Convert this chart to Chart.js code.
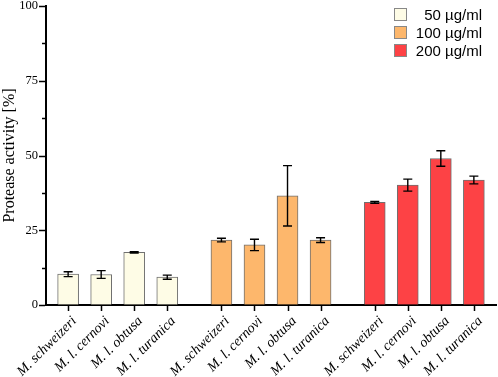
<!DOCTYPE html>
<html>
<head>
<meta charset="utf-8">
<script src="https://cdn.jsdelivr.net/npm/chart.js@4"></script>
<style>
  html, body { margin: 0; padding: 0; background: #fff; }
  #wrap { width: 498px; height: 377px; position: relative; }
</style>
</head>
<body>
<div id="wrap"><canvas id="chart_protease"></canvas></div>
<script>
// strains, same order in every dose group
const species = ['M. schweizeri', 'M. l. cernovi', 'M. l. obtusa', 'M. l. turanica'];
const doses = ['50 µg/ml', '100 µg/ml', '200 µg/ml'];

const mean50 = [10.3, 10.2, 17.6, 9.3];
const sd50 = [0.8, 1.3, 0.2, 0.7];
const mean100 = [21.7, 20.1, 36.5, 21.7];
const sd100 = [0.6, 1.9, 10.1, 0.8];
const mean200 = [34.3, 40.1, 49.0, 41.8];
const sd200 = [0.3, 2.0, 2.6, 1.3];

const yTicks = [0, 25, 50, 75, 100];

const means = [mean50, mean100, mean200];
const sds = [sd50, sd100, sd200];
const fills = ['#fefce6', '#fdb76c', '#fd4245'];

// layout: gap between dose groups, in bar slots
const groupGap = 0.64;
const sidePad = 0.67;
const slot = (g, i) => g * (species.length + groupGap) + i;

const positions = [];
const posLabels = {};
doses.forEach((d, g) => species.forEach((s, i) => {
  positions.push(slot(g, i));
  posLabels[slot(g, i).toFixed(3)] = s;
}));

const datasets = doses.map((d, g) => ({
  label: d,
  data: means[g].map((v, i) => ({ x: slot(g, i), y: v })),
  backgroundColor: fills[g],
  borderColor: '#707070',
  borderWidth: 1,
  barThickness: 21,
  grouped: false
}));

const serif = 'Liberation Serif';

var chart_protease = new Chart(document.getElementById('chart_protease'), {
  type: 'bar',
  data: { datasets: datasets },
  options: {
    animation: false,
    responsive: true,
    maintainAspectRatio: false,
    layout: { padding: { top: 6, right: 2, left: 0, bottom: 0 } },
    plugins: {
      legend: { display: false },
      tooltip: { enabled: false }
    },
    scales: {
      x: {
        type: 'linear',
        offset: false,
        min: -sidePad,
        max: slot(doses.length - 1, species.length - 1) + sidePad,
        afterBuildTicks: (scale) => {
          scale.ticks = positions.map(v => ({ value: v }));
        },
        afterFit: (scale) => { scale.height = 72; },
        grid: { display: false },
        border: { display: true, color: '#000', width: 2 },
        ticks: { display: false }
      },
      y: {
        min: 0,
        max: 100,
        afterFit: (scale) => {
          scale.width = 46;
          scale.paddingTop = 0;
          scale.paddingBottom = 0;
        },
        grid: {
          display: true, drawOnChartArea: false, drawTicks: true,
          tickLength: 6, tickColor: 'rgba(0,0,0,0)'
        },
        border: { display: true, color: '#000', width: 2 },
        title: {
          display: true,
          text: 'Protease activity [%]',
          color: '#000',
          padding: 0,
          font: { family: serif, size: 16 }
        },
        ticks: {
          stepSize: 12.5,
          padding: 2,
          color: '#000',
          font: { family: serif, size: 12.5 },
          callback: (v) => yTicks.includes(v) ? v : ''
        }
      }
    }
  },
  plugins: [{
    id: 'whiteBg',
    beforeDraw: (chart) => {
      const ctx = chart.ctx;
      ctx.save();
      ctx.fillStyle = 'white';
      ctx.fillRect(0, 0, chart.width, chart.height);
      ctx.restore();
    }
  }, {
    id: 'ticksErrorsLegend',
    afterDraw: (chart) => {
      const ctx = chart.ctx;
      const xs = chart.scales.x, ys = chart.scales.y;
      const area = chart.chartArea;
      ctx.save();
      ctx.strokeStyle = '#000';
      ctx.lineWidth = 1.5;
      // y tick marks, short ones between labels
      ys.ticks.forEach(t => {
        const py = Math.round(ys.getPixelForValue(t.value)) + 0.5;
        const len = yTicks.includes(t.value) ? 6 : 3;
        ctx.beginPath();
        ctx.moveTo(area.left - 1, py);
        ctx.lineTo(area.left - 1 - len, py);
        ctx.stroke();
      });
      // x tick marks and slanted italic labels
      ctx.fillStyle = '#000';
      ctx.font = 'italic 14px "Liberation Serif"';
      ctx.textAlign = 'right';
      ctx.textBaseline = 'top';
      positions.forEach(v => {
        const px = Math.round(xs.getPixelForValue(v)) + 0.5;
        ctx.beginPath();
        ctx.moveTo(px, area.bottom + 1);
        ctx.lineTo(px, area.bottom + 6);
        ctx.stroke();
        ctx.save();
        ctx.translate(px + 1, area.bottom + 9);
        ctx.rotate(-Math.PI / 4);
        ctx.fillText(posLabels[v.toFixed(3)], 0, 0);
        ctx.restore();
      });
      // error bars
      ctx.lineWidth = 1.4;
      chart.data.datasets.forEach((ds, g) => {
        ds.data.forEach((p, i) => {
          const px = xs.getPixelForValue(p.x);
          const top = ys.getPixelForValue(p.y + sds[g][i]);
          const bot = ys.getPixelForValue(p.y - sds[g][i]);
          ctx.beginPath();
          ctx.moveTo(px, top); ctx.lineTo(px, bot);
          ctx.moveTo(px - 4.5, top); ctx.lineTo(px + 4.5, top);
          ctx.moveTo(px - 4.5, bot); ctx.lineTo(px + 4.5, bot);
          ctx.stroke();
        });
      });
      // legend, top right
      ctx.font = '15px "Liberation Sans"';
      ctx.textAlign = 'right';
      ctx.textBaseline = 'middle';
      chart.data.datasets.forEach((ds, g) => {
        const cy = 14.5 + g * 18;
        ctx.fillStyle = ds.backgroundColor;
        ctx.fillRect(394.5, cy - 6, 12, 12);
        ctx.strokeStyle = '#888';
        ctx.lineWidth = 1;
        ctx.strokeRect(394.5, cy - 6, 12, 12);
        ctx.fillStyle = '#000';
        ctx.fillText(ds.label, 482, cy + 1);
      });
      ctx.restore();
    }
  }]
});
</script>
</body>
</html>
